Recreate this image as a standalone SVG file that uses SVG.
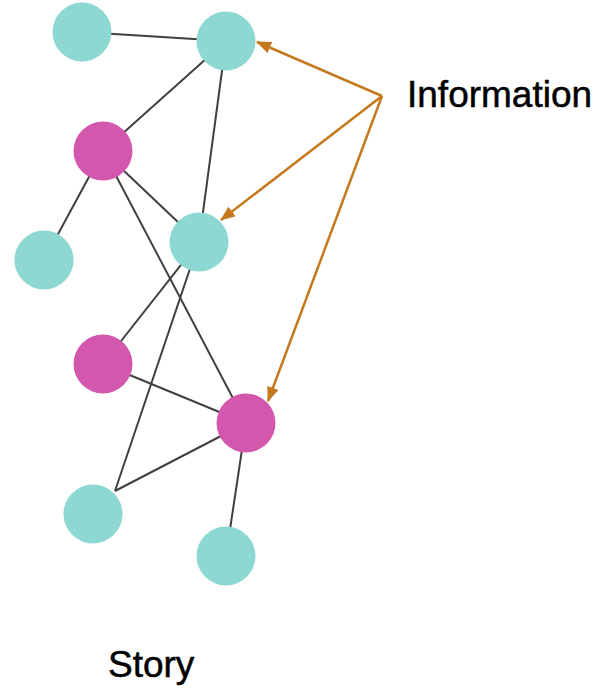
<svg xmlns="http://www.w3.org/2000/svg" width="605" height="694" viewBox="0 0 605 694">
<defs>
<style>
.t{fill:#8dd8d3}
.m{fill:#d257ad}
.e{stroke:#404040;stroke-width:2;fill:none}
.a{stroke:#c4791e;stroke-width:2.5;fill:none}
.lbl{font-family:"Liberation Sans",Arial,sans-serif;font-size:37px;fill:#000;stroke:#000;stroke-width:0.5}
</style>
<marker id="ah" markerWidth="15" markerHeight="12" refX="14" refY="6" orient="auto" markerUnits="userSpaceOnUse">
<path d="M0,0 L15,6 L0,12 Z" fill="#c4791e"/>
</marker>
</defs>
<rect width="605" height="694" fill="#fff"/>
<g id="connectors">
<line class="e" x1="82" y1="32" x2="226" y2="41"/>
<line class="e" x1="226" y1="41" x2="103" y2="151"/>
<line class="e" x1="226" y1="41" x2="199" y2="242"/>
<line class="e" x1="103" y1="151" x2="44" y2="260"/>
<line class="e" x1="103" y1="151" x2="199" y2="242"/>
<line class="e" x1="103" y1="151" x2="246" y2="423"/>
<line class="e" x1="199" y1="242" x2="103" y2="364"/>
<line class="e" x1="199" y1="242" x2="115" y2="491"/>
<line class="e" x1="103" y1="364" x2="246" y2="423"/>
<line class="e" x1="115" y1="491" x2="246" y2="423"/>
<line class="e" x1="246" y1="423" x2="226" y2="556"/>
<line class="a" x1="382" y1="96" x2="257" y2="42" marker-end="url(#ah)"/>
<line class="a" x1="382" y1="96" x2="221" y2="220" marker-end="url(#ah)"/>
<line class="a" x1="382" y1="96" x2="268" y2="401" marker-end="url(#ah)"/>
</g>
<g id="n1"><circle class="t" cx="82" cy="32" r="29.5"/></g>
<g id="n2"><circle class="t" cx="226" cy="41" r="29.5"/></g>
<g id="n3"><circle class="m" cx="103" cy="151" r="29.5"/></g>
<g id="n4"><circle class="t" cx="44" cy="260" r="29.5"/></g>
<g id="n5"><circle class="t" cx="199" cy="242" r="29.5"/></g>
<g id="n6"><circle class="m" cx="103" cy="364" r="29.5"/></g>
<g id="n7"><circle class="m" cx="246" cy="423" r="29.5"/></g>
<g id="n8"><circle class="t" cx="93" cy="514" r="29.5"/></g>
<g id="n9"><circle class="t" cx="226" cy="556" r="29.5"/></g>
<g id="info"><text class="lbl" x="407" y="107">Information</text></g>
<g id="story"><text class="lbl" x="108" y="677">Story</text></g>
</svg>
